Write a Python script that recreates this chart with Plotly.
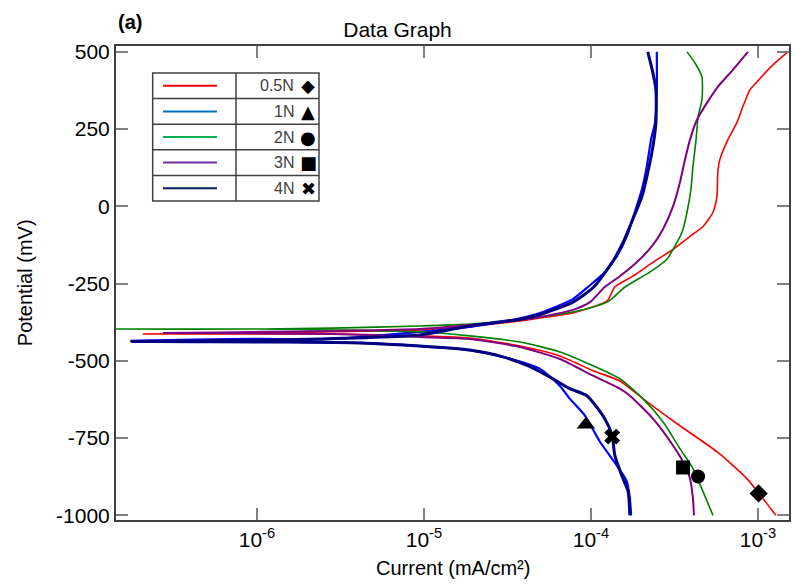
import plotly.graph_objects as go

# ---------------- data (current in mA/cm^2, potential in mV) ----------------
red_current = [1.28e-3, 1.07e-3, 8.59e-4, 5.68e-4, 3.41e-4, 2.16e-4, 1.49e-4, 1.03e-4, 6.52e-5, 3.76e-5,
               1.88e-5, 9.46e-6, 2.85e-6, 5.09e-7, 2.07e-7, 1.09e-6, 2.85e-6, 9.46e-6, 1.88e-5, 3.76e-5,
               4.95e-5, 7.80e-5, 1.25e-4, 1.39e-4, 1.78e-4, 2.35e-4, 3.10e-4, 3.92e-4, 4.69e-4, 5.38e-4,
               5.68e-4, 5.75e-4, 5.92e-4, 6.61e-4, 7.48e-4, 8.13e-4, 8.95e-4, 9.86e-4, 1.23e-3, 1.51e-3]
red_potential = [-1000, -945, -881, -794, -710, -632, -565, -532, -484, -452,
                 -426, -419, -413, -413, -413, -410, -406, -400, -387, -371,
                 -361, -345, -306, -261, -226, -181, -139, -97, -65, -19,
                 32, 110, 152, 216, 271, 323, 377, 403, 458, 500]

blue_current = [1.74e-4, 1.71e-4, 1.64e-4, 1.43e-4, 1.13e-4, 9.20e-5, 7.48e-5, 6.52e-5, 4.95e-5, 2.97e-5,
                1.88e-5, 9.46e-6, 4.14e-6, 1.32e-6, 1.78e-7, 9.33e-7, 2.85e-6, 9.46e-6, 1.88e-5, 3.76e-5,
                4.95e-5, 7.80e-5, 9.59e-5, 1.21e-4, 1.43e-4, 1.64e-4, 1.83e-4, 2.02e-4, 2.16e-4, 2.29e-4,
                2.42e-4, 2.48e-4, 2.48e-4]
blue_potential = [-1000, -945, -890, -839, -761, -677, -623, -581, -526, -487,
                  -465, -452, -442, -439, -435, -429, -429, -406, -390, -362,
                  -345, -300, -261, -213, -161, -97, -19, 55, 129, 216,
                  271, 377, 500]

green_current = [5.38e-4, 4.69e-4, 4.08e-4, 3.41e-4, 2.70e-4, 2.05e-4, 1.49e-4, 1.03e-4, 6.52e-5, 3.76e-5,
                 1.88e-5, 9.46e-6, 2.85e-6, 1.09e-6, 1.43e-7, 1.09e-6, 2.85e-6, 9.46e-6, 1.88e-5, 3.76e-5,
                 4.95e-5, 7.80e-5, 1.25e-4, 1.60e-4, 2.25e-4, 2.85e-4, 3.18e-4, 3.51e-4, 3.76e-4, 3.97e-4,
                 4.08e-4, 4.26e-4, 4.38e-4, 4.62e-4, 4.62e-4, 4.20e-4, 3.76e-4]
green_potential = [-1000, -923, -848, -784, -697, -623, -558, -516, -471, -439,
                   -419, -406, -400, -397, -397, -397, -394, -387, -381, -368,
                   -358, -342, -310, -261, -213, -171, -129, -84, -19, 55,
                   129, 216, 290, 345, 419, 464, 500]

purple_current = [4.14e-4, 4.08e-4, 3.92e-4, 3.66e-4, 3.10e-4, 2.35e-4, 1.71e-4, 1.49e-4, 1.03e-4, 6.52e-5,
                  3.76e-5, 1.88e-5, 9.46e-6, 2.85e-6, 5.09e-7, 2.74e-7, 1.09e-6, 2.85e-6, 9.46e-6, 1.88e-5,
                  3.76e-5, 4.95e-5, 7.80e-5, 9.86e-5, 1.21e-4, 1.49e-4, 1.88e-4, 2.32e-4, 2.70e-4, 3.10e-4,
                  3.41e-4, 3.66e-4, 3.92e-4, 4.32e-4, 4.95e-4, 5.75e-4, 7.08e-4, 8.71e-4]
purple_potential = [-1000, -945, -881, -839, -774, -687, -613, -590, -548, -494,
                    -455, -429, -423, -413, -410, -410, -406, -403, -397, -384,
                    -368, -358, -335, -310, -261, -226, -181, -129, -74, 0,
                    77, 152, 216, 281, 335, 387, 442, 500]

navy_current = [1.71e-4, 1.67e-4, 1.53e-4, 1.39e-4, 1.34e-4, 1.21e-4, 9.46e-5, 7.48e-5, 5.92e-5, 4.32e-5,
                2.97e-5, 1.88e-5, 9.46e-6, 4.14e-6, 1.32e-6, 1.78e-7, 1.32e-6, 9.46e-6, 1.88e-5, 3.76e-5,
                4.95e-5, 7.80e-5, 1.04e-4, 1.34e-4, 1.56e-4, 1.78e-4, 2.02e-4, 2.19e-4, 2.35e-4, 2.45e-4,
                2.45e-4, 2.35e-4, 2.19e-4]
navy_potential = [-1000, -923, -871, -806, -742, -687, -613, -590, -558, -519,
                  -487, -465, -452, -442, -439, -437, -432, -416, -387, -365,
                  -350, -310, -261, -181, -116, -42, 32, 110, 194, 271,
                  377, 432, 500]

# markers (one per series)
marker_current = [1.01e-3, 9.33e-5, 4.38e-4, 3.56e-4, 1.34e-4]
marker_potential = [-929, -706, -874, -845, -745]
marker_symbols = ["diamond", "triangle-up", "circle", "square", "x"]
marker_sizes = [14, 16, 14, 14, 14]

# legend table
legend_labels = ["0.5N", "1N", "2N", "3N", "4N"]
legend_colors = ["#ff0000", "#0070c0", "#00b050", "#7030a0", "#002060"]
legend_glyphs = ["◆", "▲", "●", "■", "✖"]

# axis ticks
x_tickvals = [1e-6, 1e-5, 1e-4, 1e-3]
x_ticktext = ["10<sup>-6</sup>", "10<sup>-5</sup>", "10<sup>-4</sup>", "10<sup>-3</sup>"]
y_tickvals = [500, 250, 0, -250, -500, -750, -1000]
y_ticktext = ["500", "250", "0", "-250", "-500", "-750", "-1000"]

FONT = "Arial, Liberation Sans, sans-serif"

fig = go.Figure()

series = [
    (red_current, red_potential, "#ff0000", 1.6),
    (blue_current, blue_potential, "#0000ff", 2.2),
    (green_current, green_potential, "#008000", 1.6),
    (purple_current, purple_potential, "#800080", 2.0),
    (navy_current, navy_potential, "#000080", 3.0),
]
for cur, pot, col, w in series:
    fig.add_trace(go.Scatter(x=cur, y=pot, mode="lines",
                             line=dict(color=col, width=w, shape="spline", smoothing=0.6),
                             hoverinfo="skip"))

for xc, yp, sym, sz in zip(marker_current, marker_potential, marker_symbols, marker_sizes):
    fig.add_trace(go.Scatter(x=[xc], y=[yp], mode="markers",
                             marker=dict(symbol=sym, size=sz, color="black",
                                         line=dict(width=0)),
                             hoverinfo="skip"))

# ---------------- legend table built from shapes/annotations ----------------
lx0, lx1, ldiv = 0.0545, 0.3016, 0.1783
ltop, lbot = 0.943, 0.673
n = len(legend_labels)
rowh = (ltop - lbot) / n
shapes = [dict(type="rect", xref="paper", yref="paper", x0=lx0, x1=lx1, y0=lbot, y1=ltop,
               line=dict(color="#404040", width=1.5), fillcolor="white", layer="above"),
          dict(type="line", xref="paper", yref="paper", x0=ldiv, x1=ldiv, y0=lbot, y1=ltop,
               line=dict(color="#404040", width=1.5))]
annotations = []
for i, (lab, col, gl) in enumerate(zip(legend_labels, legend_colors, legend_glyphs)):
    yc = ltop - (i + 0.5) * rowh
    if i > 0:
        yl = ltop - i * rowh
        shapes.append(dict(type="line", xref="paper", yref="paper", x0=lx0, x1=lx1, y0=yl, y1=yl,
                           line=dict(color="#404040", width=1.5)))
    shapes.append(dict(type="line", xref="paper", yref="paper", x0=0.0698, x1=0.150, y0=yc, y1=yc,
                       line=dict(color=col, width=2)))
    annotations.append(dict(xref="paper", yref="paper", x=0.268, y=yc, text=lab, showarrow=False,
                            xanchor="right", yanchor="middle",
                            font=dict(family=FONT, size=16, color="#404040")))
    annotations.append(dict(xref="paper", yref="paper", x=0.286, y=yc, text=gl, showarrow=False,
                            xanchor="center", yanchor="middle",
                            font=dict(family="DejaVu Sans", size=18, color="black")))

annotations += [
    dict(xref="paper", yref="paper", x=0.021, y=1.05, text="<b>(a)</b>", showarrow=False,
         xanchor="center", yanchor="middle", font=dict(family=FONT, size=20, color="black")),
    dict(xref="paper", yref="paper", x=0.5, y=-0.101, text="Current (mA/cm²)", showarrow=False,
         xanchor="center", yanchor="middle", font=dict(family=FONT, size=20, color="black")),
    dict(xref="paper", yref="paper", x=-0.135, y=0.5, text="Potential (mV)", showarrow=False,
         textangle=-90, xanchor="center", yanchor="middle",
         font=dict(family=FONT, size=20, color="black")),
]

axis_common = dict(showgrid=False, zeroline=False, showline=True, linecolor="#404040", linewidth=2,
                   mirror="allticks", ticks="inside", ticklen=12, tickwidth=2, tickcolor="#808080",
                   automargin=False,
                   tickfont=dict(family=FONT, size=21, color="black"))

fig.update_layout(
    width=795, height=584,
    margin=dict(l=116, r=6, t=46, b=64, autoexpand=False),
    paper_bgcolor="white", plot_bgcolor="white",
    showlegend=False,
    title=dict(text="Data Graph", x=0.5, xref="container", y=1 - 30 / 584, yref="container",
               xanchor="center", yanchor="middle",
               font=dict(family=FONT, size=21, color="black")),
    xaxis=dict(type="log", range=[-6.844, -2.814], tickvals=x_tickvals, ticktext=x_ticktext,
               **axis_common),
    yaxis=dict(range=[-1015, 519], tickvals=y_tickvals, ticktext=y_ticktext, **axis_common),
    shapes=shapes,
    annotations=annotations,
    hovermode=False,
)

fig.write_html("out.html", config={"displayModeBar": False},
               post_script="document.body.style.margin='0px';document.body.style.overflow='hidden';")
